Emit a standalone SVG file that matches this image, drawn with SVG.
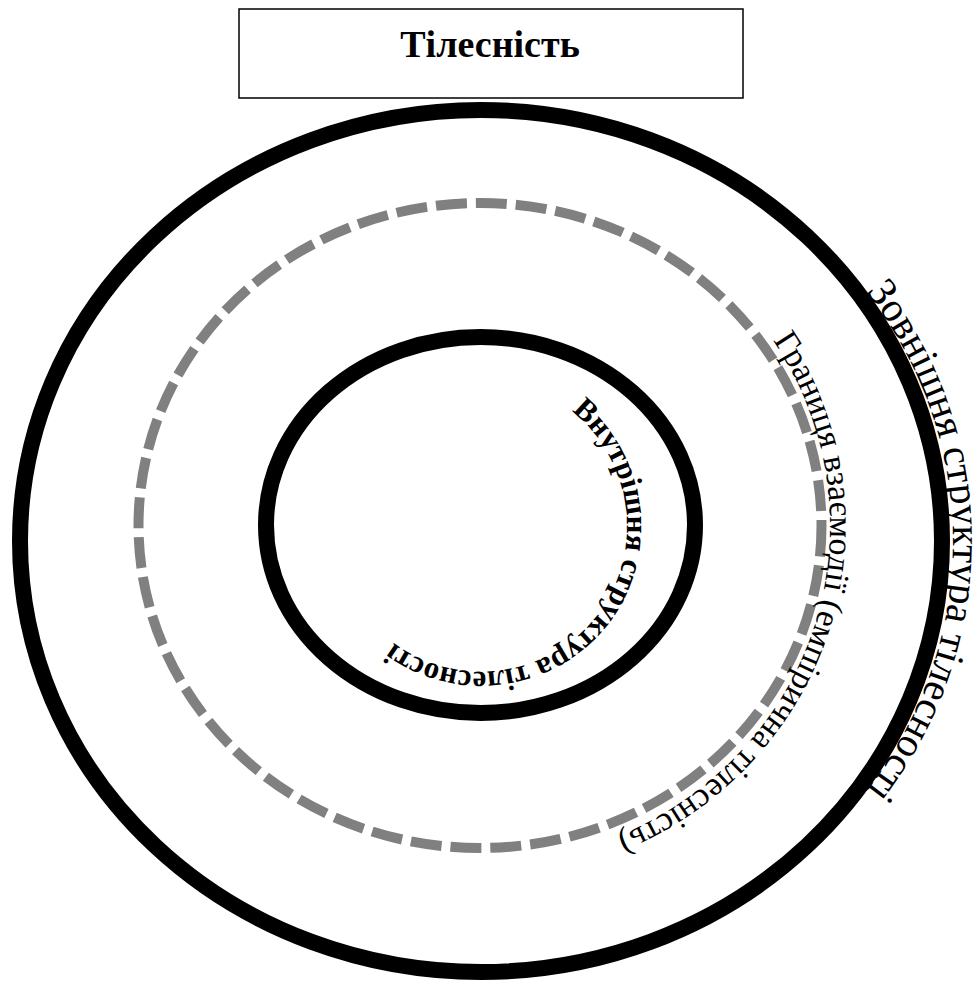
<svg xmlns="http://www.w3.org/2000/svg" xmlns:xlink="http://www.w3.org/1999/xlink" width="978" height="981" viewBox="0 0 978 981">
  <style>
    .ring { fill: none; stroke: #000; stroke-width: 16; }
    .dash { fill: none; stroke: #808080; stroke-width: 10; stroke-dasharray: 31 9; }
    .lbl { font-family: "Liberation Serif", "Times New Roman", serif; fill: #000; }
  </style>
  <defs>
    <path id="pOuter" d="M 9 541 A 472 431 0 0 1 953 541 A 472 431 0 0 1 9 541"/>
    <path id="pDash" d="M 145.6 425.6 A 350 338 0 0 1 814.4 625.4 A 350 338 0 0 1 145.6 425.6"/>
    <path id="pInner" d="M 362.6 434.9 A 148 148 0 0 1 597.4 615.1 A 148 148 0 0 1 362.6 434.9"/>
  </defs>
  <rect width="978" height="981" fill="#fff"/>

  <g id="title">
    <rect x="239" y="9" width="504" height="89" fill="#fff" stroke="#000" stroke-width="1.5"/>
    <text class="lbl" x="490" y="57" font-size="38" font-weight="bold" text-anchor="middle">Тілесність</text>
  </g>

  <g id="outer">
    <ellipse class="ring" cx="481" cy="541" rx="461" ry="431"/>
    <text class="lbl" font-size="41"><textPath xlink:href="#pOuter" href="#pOuter" startOffset="50%" text-anchor="middle">Зовнішня структура тілесності</textPath></text>
  </g>

  <g id="boundary">
    <ellipse class="dash" cx="480" cy="525.5" rx="341.5" ry="322.5"/>
    <text class="lbl" font-size="34"><textPath xlink:href="#pDash" href="#pDash" startOffset="50%" text-anchor="middle">Границя взаємодії (емпірична тілесність)</textPath></text>
  </g>

  <g id="inner">
    <ellipse class="ring" cx="480.5" cy="525" rx="214.5" ry="188"/>
    <text class="lbl" font-size="31" font-weight="bold"><textPath xlink:href="#pInner" href="#pInner" startOffset="50%" text-anchor="middle">Внутрішня структура тілесності</textPath></text>
  </g>

  <g id="connectors"></g>
</svg>
